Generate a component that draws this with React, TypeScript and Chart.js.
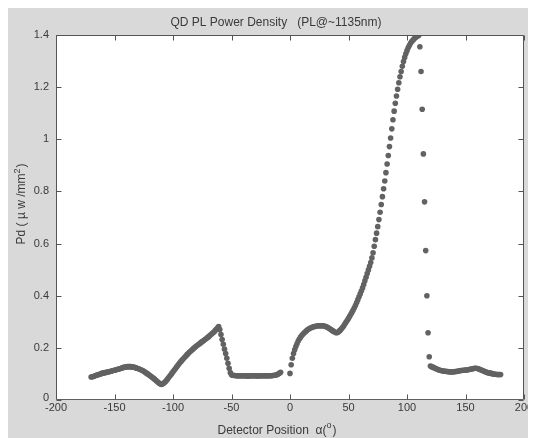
import { useEffect, useRef } from "react";
import { Chart, registerables } from "chart.js";

Chart.register(...registerables);

// Axis ticks
const X_TICKS = [-200, -150, -100, -50, 0, 50, 100, 150, 200];
const X_TICK_LABELS = ["-200", "-150", "-100", "-50", "0", "50", "100", "150", "200"];
const Y_TICKS = [0, 0.2, 0.4, 0.6, 0.8, 1.0, 1.2, 1.4];
const Y_TICK_LABELS = ["0", "0.2", "0.4", "0.6", "0.8", "1", "1.2", "1.4"];

// Detector scan sampled every STEP_DEG degrees
const STEP_DEG = 1;

// First sweep: -170° .. -8°
const SWEEP1_START = -170;
const PD_SWEEP1 = [
  0.088, 0.089, 0.090, 0.092, 0.094, 0.096, 0.097, 0.099, 0.100, 0.102,
  0.103, 0.104, 0.105, 0.106, 0.107, 0.108, 0.109, 0.110, 0.112, 0.113,
  0.114, 0.115, 0.117, 0.118, 0.119, 0.121, 0.122, 0.124, 0.125, 0.126,
  0.127, 0.128, 0.128, 0.128, 0.128, 0.127, 0.126, 0.125, 0.124, 0.122,
  0.121, 0.119, 0.117, 0.115, 0.113, 0.110, 0.107, 0.104, 0.101, 0.098,
  0.095, 0.091, 0.088, 0.084, 0.081, 0.077, 0.073, 0.069, 0.065, 0.062,
  0.060, 0.061, 0.064, 0.068, 0.073, 0.078, 0.084, 0.090, 0.096, 0.102,
  0.108, 0.114, 0.120, 0.126, 0.132, 0.138, 0.144, 0.149, 0.154, 0.159,
  0.164, 0.169, 0.174, 0.178, 0.183, 0.187, 0.191, 0.195, 0.199, 0.203,
  0.207, 0.210, 0.214, 0.217, 0.221, 0.224, 0.227, 0.231, 0.234, 0.238,
  0.241, 0.245, 0.249, 0.253, 0.257, 0.261, 0.266, 0.271, 0.276, 0.282,
  0.270, 0.251, 0.232, 0.214, 0.195, 0.178, 0.160, 0.141, 0.122, 0.105,
  0.097, 0.095, 0.094, 0.094, 0.093, 0.093, 0.093, 0.093, 0.093, 0.093,
  0.093, 0.093, 0.093, 0.092, 0.092, 0.092, 0.093, 0.093, 0.093, 0.093,
  0.093, 0.093, 0.092, 0.092, 0.093, 0.093, 0.093, 0.093, 0.093, 0.093,
  0.093, 0.093, 0.093, 0.093, 0.093, 0.094, 0.094, 0.095, 0.096, 0.098,
  0.100, 0.103, 0.106,
];

// Second sweep: 0° .. 180°
const SWEEP2_START = 0;
const PD_SWEEP2 = [
  0.102, 0.135, 0.160, 0.178, 0.193, 0.205, 0.216, 0.226, 0.234, 0.241,
  0.247, 0.252, 0.257, 0.261, 0.265, 0.269, 0.272, 0.275, 0.277, 0.279,
  0.281, 0.282, 0.283, 0.284, 0.285, 0.285, 0.285, 0.285, 0.285, 0.284,
  0.283, 0.281, 0.279, 0.276, 0.273, 0.270, 0.267, 0.264, 0.261, 0.259,
  0.258, 0.260, 0.264, 0.268, 0.273, 0.279, 0.285, 0.292, 0.299, 0.306,
  0.313, 0.321, 0.329, 0.337, 0.345, 0.354, 0.363, 0.374, 0.385, 0.396,
  0.407, 0.418, 0.430, 0.443, 0.457, 0.471, 0.485, 0.499, 0.513, 0.527,
  0.545, 0.565, 0.590, 0.615, 0.640, 0.665, 0.692, 0.720, 0.750, 0.780,
  0.810, 0.840, 0.872, 0.905, 0.938, 0.972, 1.005, 1.040, 1.075, 1.108,
  1.138, 1.166, 1.192, 1.217, 1.240, 1.260, 1.280, 1.298, 1.314, 1.328,
  1.340, 1.351, 1.360, 1.368, 1.375, 1.380, 1.385, 1.389, 1.393, 1.396,
  1.398, 1.355, 1.260, 1.115, 0.944, 0.760, 0.573, 0.400, 0.258, 0.166,
  0.130, 0.128, 0.126, 0.124, 0.122, 0.120, 0.118, 0.116, 0.114, 0.113,
  0.112, 0.111, 0.110, 0.110, 0.109, 0.109, 0.108, 0.108, 0.108, 0.108,
  0.108, 0.109, 0.109, 0.110, 0.111, 0.112, 0.113, 0.113, 0.114, 0.114,
  0.115, 0.115, 0.116, 0.117, 0.118, 0.119, 0.120, 0.121, 0.122, 0.122,
  0.121, 0.120, 0.118, 0.116, 0.114, 0.112, 0.110, 0.108, 0.106, 0.105,
  0.104, 0.103, 0.102, 0.101, 0.100, 0.099, 0.099, 0.098, 0.098, 0.098,
  0.098,
];

const TITLE = "QD PL Power Density   (PL@~1135nm)";
const X_TITLE = "Detector Position  α(";
const Y_TITLE = "Pd ( µ w /mm";

const FONT = '"Liberation Sans", Arial, sans-serif';
const TEXT = "#3a3a3a";
const AXIS = "#555555";
const AXIS_BOTTOM = "#7d534e";
const DOT = "#626262";

function sweep(start: number, values: number[]) {
  return values.map((y, i) => ({ x: start + i * STEP_DEG, y }));
}

// Draws a string followed by a superscript and a closing part, centred at (cx, cy).
function drawWithSup(
  ctx: CanvasRenderingContext2D,
  main: string,
  sup: string,
  tail: string,
  cx: number,
  cy: number,
  size: number
) {
  ctx.font = `${size}px ${FONT}`;
  const wMain = ctx.measureText(main).width;
  const wTail = ctx.measureText(tail).width;
  ctx.font = `${Math.round(size * 0.75)}px ${FONT}`;
  const wSup = ctx.measureText(sup).width;
  const total = wMain + wSup + 1 + wTail;
  let x = cx - total / 2;
  ctx.textAlign = "left";
  ctx.textBaseline = "middle";
  ctx.font = `${size}px ${FONT}`;
  ctx.fillText(main, x, cy);
  x += wMain;
  ctx.font = `${Math.round(size * 0.75)}px ${FONT}`;
  ctx.fillText(sup, x, cy - size * 0.4);
  x += wSup + 1;
  ctx.font = `${size}px ${FONT}`;
  ctx.fillText(tail, x, cy);
}

const frame = {
  id: "boxedAxes",
  beforeDatasetsDraw(chart: any) {
    const { ctx, chartArea: a } = chart;
    ctx.save();
    ctx.fillStyle = "#ffffff";
    ctx.fillRect(a.left, a.top, a.right - a.left, a.bottom - a.top);
    ctx.restore();
  },
  afterDatasetsDraw(chart: any) {
    const { ctx, chartArea: a, scales } = chart;
    const xs = scales.x;
    const ys = scales.y;
    const L = Math.round(a.left) + 0.5;
    const R = Math.round(a.right) - 0.5;
    const T = Math.round(a.top) + 0.5;
    const B = Math.round(a.bottom) - 0.5;
    const tick = 5;
    ctx.save();
    ctx.lineWidth = 1;

    // box
    ctx.strokeStyle = AXIS;
    ctx.beginPath();
    ctx.moveTo(L, B);
    ctx.lineTo(L, T);
    ctx.lineTo(R, T);
    ctx.lineTo(R, B);
    ctx.stroke();
    ctx.strokeStyle = AXIS_BOTTOM;
    ctx.beginPath();
    ctx.moveTo(L, B);
    ctx.lineTo(R, B);
    ctx.stroke();

    // inward tick marks
    ctx.strokeStyle = AXIS;
    ctx.beginPath();
    X_TICKS.forEach((v) => {
      const px = Math.round(xs.getPixelForValue(v)) + 0.5;
      ctx.moveTo(px, B);
      ctx.lineTo(px, B - tick);
      ctx.moveTo(px, T);
      ctx.lineTo(px, T + tick);
    });
    Y_TICKS.forEach((v) => {
      const py = Math.round(ys.getPixelForValue(v)) + 0.5;
      ctx.moveTo(L, py);
      ctx.lineTo(L + tick, py);
      ctx.moveTo(R, py);
      ctx.lineTo(R - tick, py);
    });
    ctx.stroke();

    // tick labels
    ctx.fillStyle = TEXT;
    ctx.font = `11px ${FONT}`;
    ctx.textAlign = "center";
    ctx.textBaseline = "middle";
    X_TICKS.forEach((v, i) => {
      ctx.fillText(X_TICK_LABELS[i], xs.getPixelForValue(v), a.bottom + 8);
    });
    ctx.textAlign = "right";
    Y_TICKS.forEach((v, i) => {
      ctx.fillText(Y_TICK_LABELS[i], a.left - 7, ys.getPixelForValue(v) - (v === 0 ? 2 : 0));
    });

    // title
    ctx.font = `12px ${FONT}`;
    ctx.textAlign = "center";
    ctx.fillText(TITLE, 268, 14.5);

    // x axis title
    drawWithSup(ctx, X_TITLE, "o", ")", 269, 422.5, 12);

    // y axis title (rotated)
    ctx.save();
    ctx.translate(14, 196);
    ctx.rotate(-Math.PI / 2);
    drawWithSup(ctx, Y_TITLE, "2", ")", 0, 0, 12);
    ctx.restore();

    ctx.restore();
  },
};

export default function App() {
  const canvasRef = useRef<HTMLCanvasElement | null>(null);

  useEffect(() => {
    const canvas = canvasRef.current;
    if (!canvas) return;
    const points = [...sweep(SWEEP1_START, PD_SWEEP1), ...sweep(SWEEP2_START, PD_SWEEP2)];
    const chart = new Chart(canvas, {
      type: "scatter",
      data: {
        datasets: [
          {
            data: points,
            backgroundColor: DOT,
            borderWidth: 0,
            pointRadius: 2.8,
            pointBorderWidth: 0,
            showLine: false,
          },
        ],
      },
      options: {
        responsive: false,
        animation: false,
        devicePixelRatio: 1,
        layout: { padding: { left: 48, top: 27, right: 12, bottom: 38 } },
        plugins: {
          legend: { display: false },
          tooltip: { enabled: false },
          title: { display: false },
        },
        scales: {
          x: { type: "linear", min: -200, max: 200, display: false },
          y: { type: "linear", min: 0, max: 1.4, display: false },
        },
        events: [],
      },
      plugins: [frame],
    });
    return () => chart.destroy();
  }, []);

  return (
    <div style={{ width: 528, height: 430, background: "#d9d9d9", position: "relative" }}>
      <canvas ref={canvasRef} width={528} height={430} style={{ display: "block" }} />
    </div>
  );
}
